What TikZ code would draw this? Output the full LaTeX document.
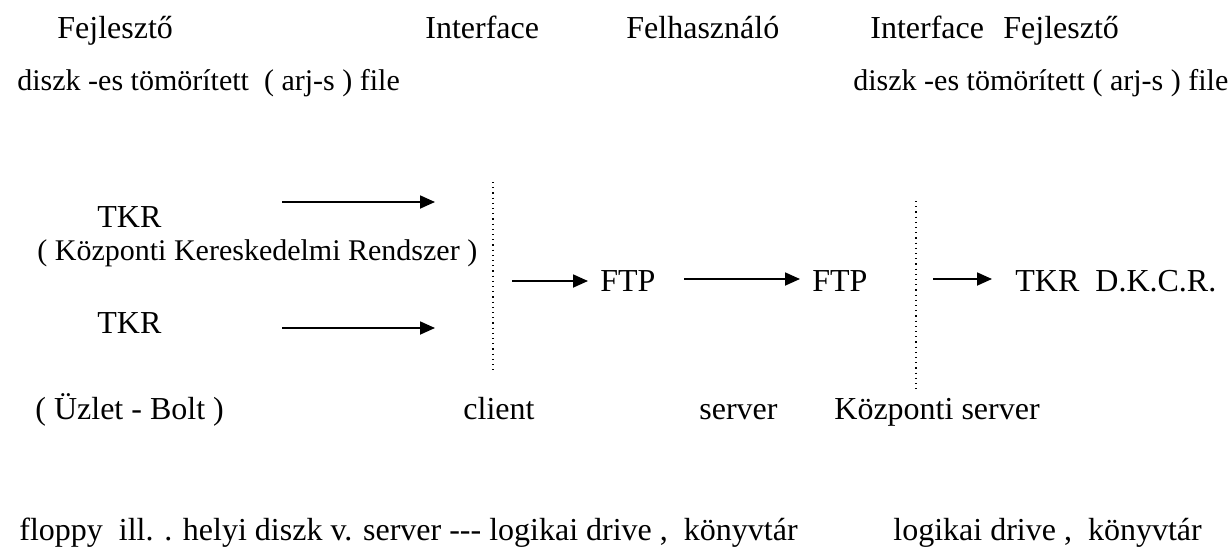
\documentclass[tikz,border=0pt]{standalone}
\usepackage{fontspec}
\setmainfont{Liberation Serif}
\usetikzlibrary{arrows.meta}
\begin{document}
\begin{tikzpicture}[x=0.5pt,y=-0.5pt,
  lbl/.style={anchor=base west, inner sep=0pt, font=\fontsize{16}{19}\selectfont},
  slbl/.style={anchor=base west, inner sep=0pt, font=\fontsize{15}{18}\selectfont},
  arr/.style={-{Triangle[length=7.5pt,width=6.5pt]}, line width=0.9pt},
  sep/.style={dotted, line width=0.6pt}]
\useasboundingbox (0,0) rectangle (1228,558);
% headings
\node[lbl] (fej1) at (57,38) {Fejlesztő};
\node[lbl] (int1) at (425,38) {Interface};
\node[lbl] (fel) at (626,38) {Felhasználó};
\node[lbl] (int2) at (870,38) {Interface};
\node[lbl] (fej2) at (1003,38) {Fejlesztő};
\node[slbl] (disk1) at (17,90) {diszk -es tömörített\ \ ( arj-s ) file};
\node[slbl] (disk2) at (853,90) {diszk -es tömörített ( arj-s ) file};
% left block
\node[lbl] (tkr1) at (97,227) {TKR};
\node[slbl] (kkr) at (37,260) {( Központi Kereskedelmi Rendszer )};
\node[lbl] (tkr2) at (97,333) {TKR};
\node[lbl] (ftp1) at (600,291) {FTP};
\node[lbl] (ftp2) at (812,291) {FTP};
\node[lbl] (dkcr) at (1015,291) {TKR\ \ D.K.C.R.};
% lower labels
\node[lbl] (uzlet) at (35,419) {( Üzlet - Bolt )};
\node[lbl] (client) at (463,419) {client};
\node[lbl] (server) at (699,419) {server};
\node[lbl] (kserver) at (834,419) {Központi server};
\node[lbl] (floppy) at (19,540) {floppy\ \ ill. . helyi diszk v. server -{}-{}- logikai drive ,\ \ könyvtár};
\node[lbl] (logikai) at (893,540) {logikai drive ,\ \ könyvtár};
% arrow coordinates
\coordinate (a1s) at (282,202); \coordinate (a1e) at (435,202);
\coordinate (a2s) at (282,328); \coordinate (a2e) at (435,328);
\coordinate (a3s) at (512,281); \coordinate (a3e) at (588,281);
\coordinate (a4s) at (684,279); \coordinate (a4e) at (800,279);
\coordinate (a5s) at (933,279); \coordinate (a5e) at (992,279);
\coordinate (d1t) at (493,182); \coordinate (d1b) at (493,370);
\coordinate (d2t) at (916,201); \coordinate (d2b) at (916,390);
\draw[arr] (a1s) -- (a1e);
\draw[arr] (a2s) -- (a2e);
\draw[arr] (a3s) -- (a3e);
\draw[arr] (a4s) -- (a4e);
\draw[arr] (a5s) -- (a5e);
\draw[sep] (d1t) -- (d1b);
\draw[sep] (d2t) -- (d2b);
\end{tikzpicture}
\end{document}
